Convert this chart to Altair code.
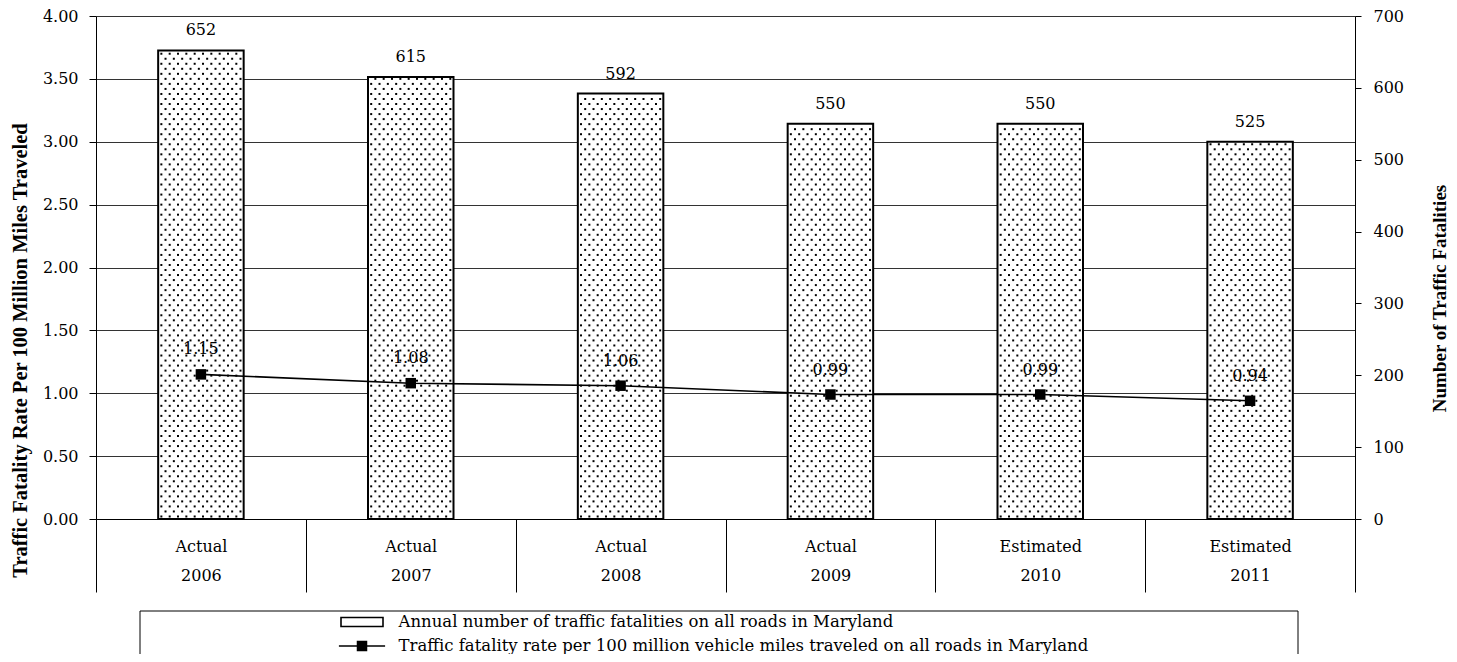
import altair as alt
import pandas as pd

years = ["2006", "2007", "2008", "2009", "2010", "2011"]
status = ["Actual", "Actual", "Actual", "Actual", "Estimated", "Estimated"]
fatalities = [652, 615, 592, 550, 550, 525]
rates = [1.15, 1.08, 1.06, 0.99, 0.99, 0.94]
series_names = [
    "Annual number of traffic fatalities on all roads in Maryland",
    "Traffic fatality rate per 100 million vehicle miles traveled on all roads in Maryland",
]
rate_ticks = [0, 0.5, 1.0, 1.5, 2.0, 2.5, 3.0, 3.5, 4.0]
count_ticks = [0, 100, 200, 300, 400, 500, 600, 700]
left_title = "Traffic Fatality Rate Per 100 Million Miles Traveled"
right_title = "Number of Traffic Fatalities"

FONT = "DejaVu Serif"
TITLE_FONT = "Liberation Serif"

cats = [f"{s}|{y}" for s, y in zip(status, years)]
df = pd.DataFrame({"cat": cats, "count": fatalities, "rate": rates})
legend_df = pd.DataFrame({"series": series_names, "rate": [None, None]})

x_enc = alt.X(
    "cat:N",
    sort=cats,
    scale=alt.Scale(paddingInner=0, paddingOuter=0),
    axis=alt.Axis(
        title=None,
        labelExpr="isValid(datum.value) ? split(datum.value, '|') : ''",
        labelAngle=0,
        tickBand="extent",
        tickSize=73,
        tickColor="black",
        tickWidth=1,
        labelPadding=-54,
        labelLineHeight=29,
        labelFont=FONT,
        labelFontSize=16,
        labelColor="black",
        domainColor="black",
        grid=False,
    ),
)

count_scale = alt.Scale(domain=[0, 700], nice=False)
rate_scale = alt.Scale(domain=[0, 4], nice=False)

count_axis = alt.Axis(
    orient="right",
    values=count_ticks,
    grid=False,
    tickSize=6,
    tickColor="black",
    labelPadding=12,
    labelFont=FONT,
    labelFontSize=16,
    labelColor="black",
    domainColor="black",
    title=right_title,
    titleFont=TITLE_FONT,
    titleFontSize=19,
    titleFontWeight="bold",
    titleColor="black",
    titleAngle=270,
    titleX=84,
    titleY=282,
    titleAlign="center",
    titleBaseline="middle",
)

rate_axis = alt.Axis(
    orient="left",
    values=rate_ticks,
    format=".2f",
    grid=True,
    gridColor="#333333",
    gridWidth=1,
    tickSize=7,
    tickColor="black",
    labelPadding=11,
    labelFont=FONT,
    labelFontSize=16,
    labelColor="black",
    domainColor="black",
    title=left_title,
    titleFont=TITLE_FONT,
    titleFontSize=20.5,
    titleFontWeight="bold",
    titleColor="black",
    titleAngle=270,
    titleX=-76,
    titleY=334,
    titleAlign="center",
    titleBaseline="middle",
)

base = alt.Chart(df)

bars = base.mark_bar(
    width=85.5, fill="white", stroke="black", strokeWidth=2
).encode(x=x_enc, y=alt.Y("count:Q", scale=count_scale, axis=count_axis))

dots = (
    base.transform_calculate(r="sequence(3.5, datum.count - 2, 7)")
    .transform_flatten(["r"])
    .transform_calculate(c="sequence(floor(datum.r / 7) % 2, 20, 2)")
    .transform_flatten(["c"])
    .mark_square(size=4, color="black", opacity=1)
    .encode(
        x=x_enc,
        xOffset=alt.XOffset(
            "c:O",
            scale=alt.Scale(domain=list(range(-15, 35)), paddingInner=0, paddingOuter=0.69),
        ),
        y=alt.Y("r:Q", scale=count_scale),
    )
)

count_labels = base.mark_text(
    baseline="bottom", dy=-12, font=FONT, fontSize=16, color="black"
).encode(x=x_enc, y=alt.Y("count:Q", scale=count_scale), text=alt.Text("count:Q"))

count_layer = alt.layer(bars, dots, count_labels)

line = base.mark_line(color="black", strokeWidth=1.6).encode(
    x=x_enc, y=alt.Y("rate:Q", scale=rate_scale, axis=rate_axis)
)
squares = base.mark_square(size=110, color="black", opacity=1).encode(
    x=x_enc, y=alt.Y("rate:Q", scale=rate_scale)
)
rate_labels = base.mark_text(
    baseline="bottom", dy=-17, font=FONT, fontSize=16, color="black"
).encode(
    x=x_enc,
    y=alt.Y("rate:Q", scale=rate_scale),
    text=alt.Text("rate:Q", format=".2f"),
)

bar_path = "M-2,-0.43H2V0.43H-2Z"
# line with a solid square drawn from closely spaced strokes
sq_rows = "".join(
    f"M-0.5,{v:.3f}H0.5" for v in [-0.42, -0.28, -0.14, 0.0, 0.14, 0.28, 0.42]
)
line_path = "M-2.2,0H2.2" + sq_rows

legend_layer = (
    alt.Chart(legend_df)
    .mark_point(invalid="filter", filled=False, color="black")
    .encode(
        y=alt.Y("rate:Q", scale=rate_scale),
        shape=alt.Shape(
            "series:N",
            scale=alt.Scale(domain=series_names, range=[bar_path, line_path]),
            legend=alt.Legend(
                title=None,
                orient="none",
                legendX=254.5,
                legendY=594.5,
                direction="vertical",
                symbolSize=441,
                symbolStrokeWidth=1.6,
                symbolStrokeColor="black",
                symbolFillColor="white",
                symbolOpacity=1,
                labelOffset=25,
                rowPadding=4,
                padding=0,
                labelFont=FONT,
                labelFontSize=16.5,
                labelColor="black",
                labelLimit=0,
            ),
        ),
    )
)

rate_layer = alt.layer(line, squares, rate_labels, legend_layer)

box = (
    alt.Chart(pd.DataFrame({"k": [0]}))
    .mark_rect(fillOpacity=0, stroke="black", strokeWidth=1)
    .encode(
        x=alt.value(44), x2=alt.value(1202), y=alt.value(595), y2=alt.value(700)
    )
)

chart = (
    alt.layer(count_layer, rate_layer, box)
    .resolve_scale(y="independent")
    .properties(
        width=1259,
        height=503,
        autosize=alt.AutoSizeParams(type="none"),
        padding={"left": 88, "top": 8, "right": 94, "bottom": 135},
    )
    .configure_view(stroke="#333333", strokeWidth=1)
    .configure(background="white")
)

chart.save("out.html", embed_options={"renderer": "svg", "actions": False})
